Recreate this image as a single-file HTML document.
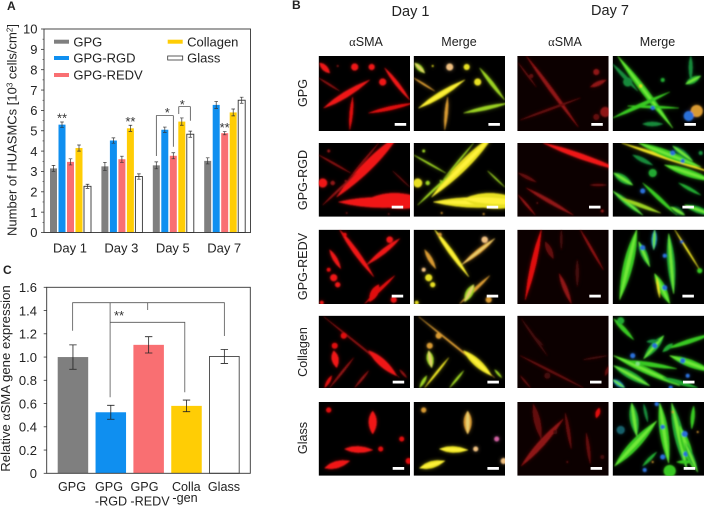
<!DOCTYPE html>
<html lang="en">
<head>
<meta charset="utf-8">
<title>HUASMC figure</title>
<style>
html,body{margin:0;padding:0;background:#fff}
#fig{display:block;width:704px;height:506px;font-family:"Liberation Sans",sans-serif;fill:#222}
text{font-size:13px}
.a{font-family:"Liberation Serif",serif}
.h{font-size:12.5px}
.r{font-size:12.6px}
</style>
</head>
<body>
<svg id="fig" xmlns="http://www.w3.org/2000/svg" width="704" height="506" viewBox="0 0 704 506">
<defs>
<filter id="soft" x="-5%" y="-5%" width="110%" height="110%"><feGaussianBlur stdDeviation="0.75"/></filter>
<filter id="softer" x="-5%" y="-5%" width="110%" height="110%"><feGaussianBlur stdDeviation="2.2"/></filter>
</defs>
<g id="chartA"></g>
<g id="chartC"></g>
<g id="panelB"></g>
<text x="7" y="10" font-weight="bold" style="font-size:12px">A</text>
<text x="292" y="9" font-weight="bold" style="font-size:12px">B</text>
<text x="3" y="274" font-weight="bold" style="font-size:12px">C</text>
<text x="410.5" y="16" text-anchor="middle" style="font-size:14.5px">Day 1</text>
<text x="610" y="15" text-anchor="middle" style="font-size:14.5px">Day 7</text>
<text class="h" x="366" y="46" text-anchor="middle"><tspan class="a">α</tspan>SMA</text>
<text class="h" x="459" y="46" text-anchor="middle">Merge</text>
<text class="h" x="565" y="46" text-anchor="middle"><tspan class="a">α</tspan>SMA</text>
<text class="h" x="657.5" y="46" text-anchor="middle">Merge</text>
<text class="r" transform="translate(307,93) rotate(-90)" text-anchor="middle">GPG</text>
<text class="r" transform="translate(307,180) rotate(-90)" text-anchor="middle">GPG-RGD</text>
<text class="r" transform="translate(307,266.5) rotate(-90)" text-anchor="middle">GPG-REDV</text>
<text class="r" transform="translate(307,352) rotate(-90)" text-anchor="middle">Collagen</text>
<text class="r" transform="translate(307,438) rotate(-90)" text-anchor="middle">Glass</text>
</svg>
<script>
/* ---------- chart data ---------- */
const daysA = ['Day 1','Day 3','Day 5','Day 7'];
const seriesNames = ['GPG','GPG-RGD','GPG-REDV','Collagen','Glass'];
const gpgValues = [3.15,3.25,3.3,3.52];
const rgdValues = [5.3,4.52,5.05,6.27];
const redvValues = [3.47,3.6,3.77,4.88];
const collagenValues = [4.15,5.12,5.45,5.9];
const glassValues = [2.27,2.75,4.83,6.5];
const gpgErrors = [0.15,0.2,0.17,0.15];
const rgdErrors = [0.13,0.13,0.13,0.17];
const redvErrors = [0.15,0.15,0.15,0.08];
const collagenErrors = [0.15,0.15,0.18,0.17];
const glassErrors = [0.1,0.13,0.15,0.15];
const ticksA = [0,1,2,3,4,5,6,7,8,9,10];
const categoriesC = ['GPG','GPG-RGD','GPG-REDV','Collagen','Glass'];
const valuesC = [1.0,0.525,1.105,0.58,1.005];
const errorsC = [0.105,0.06,0.07,0.05,0.06];
const ticksC = [0,0.2,0.4,0.6,0.8,1.0,1.2,1.4,1.6];
const tickLabelsC = ['0','0.2','0.4','0.6','0.8','1.0','1.2','1.4','1.6'];

const NS = 'http://www.w3.org/2000/svg';
const colors = ['#7f7f7f','#0f8ff0','#f96f72','#ffcd05','#ffffff'];
function mk(parent, tag, attrs, txt){
  const e = document.createElementNS(NS, tag);
  for (const k in attrs) e.setAttribute(k, attrs[k]);
  if (txt !== undefined) e.textContent = txt;
  parent.appendChild(e);
  return e;
}
function seg(parent, x1, y1, x2, y2, stroke, w){
  return mk(parent,'line',{x1:x1,y1:y1,x2:x2,y2:y2,stroke:stroke,'stroke-width':w});
}

/* ---------- chart A ---------- */
(function(){
  const g = document.getElementById('chartA');
  const L = 44, R = 250.5, T = 29, B = 232.5;
  const y = v => B - (v / 10) * (B - T);
  const gx = i => 50 + i * 51.4;
  const bx = j => j * 8.5;
  const BW = 7;
  const allV = [gpgValues,rgdValues,redvValues,collagenValues,glassValues];
  const allE = [gpgErrors,rgdErrors,redvErrors,collagenErrors,glassErrors];
  daysA.forEach((d,i)=>{
    allV.forEach((vals,j)=>{
      const v = vals[i], x = gx(i)+bx(j);
      const bar = mk(g,'rect',{x:x,y:y(v),width:BW,height:B-y(v),fill:colors[j],stroke:j===4?'#333':'none','stroke-width':j===4?0.9:0});
      
      
      const e = allE[j][i], cx = x+BW/2;
      const eb = mk(g,'path',{d:`M${cx-1.8} ${y(v+e)}H${cx+1.8}M${cx} ${y(v+e)}V${y(v-e)}M${cx-1.8} ${y(v-e)}H${cx+1.8}`,stroke:'#333','stroke-width':0.7,fill:'none'});
      
      
    });
    const lbl = mk(g,'text',{x:gx(i)+20,y:252.5,'text-anchor':'middle'},d);
    
    
  });
  const frame = mk(g,'rect',{x:L,y:T,width:R-L,height:B-T,fill:'none',stroke:'#333','stroke-width':0.9});
  
  
  ticksA.forEach(t=>{
    const tk = seg(g,L-3,y(t),L,y(t),'#333',0.8);
    
    
    if(t<10){ const mn = seg(g,L-1.5,y(t+0.5),L,y(t+0.5),'#333',0.6);
      
       }
    const tl = mk(g,'text',{x:37.5,y:y(t)+4.7,'text-anchor':'end'},String(t));
    
    
  });
  const title = mk(g,'text',{transform:'translate(16.5,130) rotate(-90)','text-anchor':'middle',style:'font-size:13px'});
  
  
  title.innerHTML = 'Number of HUASMCs [10<tspan dy="-4" style="font-size:8px">3</tspan><tspan dy="4"> cells/cm</tspan><tspan dy="-4" style="font-size:8px">2</tspan><tspan dy="4">]</tspan>';
  /* legend */
  const lx = [54,54,54,167.7,167.7], ly = [41.7,58,75,41.7,58];
  seriesNames.forEach((n,j)=>{
    const s = mk(g,'rect',{x:lx[j],y:ly[j]-2,width:15,height:4,fill:colors[j],stroke:j===4?'#333':'none','stroke-width':j===4?0.8:0});
    
    
    const t = mk(g,'text',{x:lx[j]+19.4,y:ly[j]+4.7},n);
    
    
  });
  /* significance */
  const star = (x,yy,t)=>{
    const s = mk(g,'text',{x:x,y:yy,'text-anchor':'middle',fill:'#333',style:'font-size:13px'},t);
    
    
  };
  const cxA = (i,j)=>gx(i)+bx(j)+BW/2;
  star(cxA(0,1),122.5,'**'); star(cxA(1,3),126,'**'); star(cxA(3,2),132,'**');
  star(cxA(2,0)+11,117,'*'); star(cxA(2,3)+0.5,109,'*');
  const br1 = mk(g,'path',{d:`M${cxA(2,0)} 156V115.7H${cxA(2,2)}V146.7`,fill:'none',stroke:'#333','stroke-width':0.7});
  
  
  const br2 = mk(g,'path',{d:`M${cxA(2,3)-3} 114V106.7H${cxA(2,4)}V120.7`,fill:'none',stroke:'#333','stroke-width':0.7});
  
  
})();

/* ---------- chart C ---------- */
(function(){
  const g = document.getElementById('chartC');
  const L = 46.7, R = 250.3, T = 287.3, B = 473.3;
  const y = v => B - (v / 1.6) * (B - T);
  const x = i => 57.7 + i * 37.85;
  const BW = 30.5;
  categoriesC.forEach((c,i)=>{
    const v = valuesC[i], e = errorsC[i];
    const bar = mk(g,'rect',{x:x(i)+(i===4?0.4:0),y:y(v),width:BW-(i===4?0.8:0),height:B-y(v),fill:colors[i],stroke:i===4?'#444':'none','stroke-width':i===4?0.9:0});
    
    
    const cx = x(i)+BW/2;
    const eb = mk(g,'path',{d:`M${cx-3.7} ${y(v+e)}H${cx+3.7}M${cx} ${y(v+e)}V${y(v-e)}M${cx-3.7} ${y(v-e)}H${cx+3.7}`,stroke:'#222','stroke-width':0.8,fill:'none'});
    
    
  });
  const frame = mk(g,'rect',{x:L,y:T,width:R-L,height:B-T,fill:'none',stroke:'#333','stroke-width':0.9});
  
  
  ticksC.forEach((t,i)=>{
    const tk = seg(g,L-3,y(t),L,y(t),'#333',0.8);
    
    
    const tl = mk(g,'text',{x:37,y:y(t)+4.7,'text-anchor':'end'},tickLabelsC[i]);
    
    
  });
  const labs = [['GPG',72,491],['GPG',109,491],['GPG',144.5,491],['Colla',186.3,491],['Glass',224,491],['-RGD',111,505.5],['-REDV',150,505.5],['-gen',185,502]];
  labs.forEach(l=>{
    const t = mk(g,'text',{x:l[1],y:l[2],'text-anchor':'middle',style:'font-size:12.6px'},l[0]);
    
    
  });
  const title = mk(g,'text',{transform:'translate(10,378.5) rotate(-90)','text-anchor':'middle',style:'font-size:13.2px'});
  
  
  title.innerHTML = 'Relative <tspan class="a">α</tspan>SMA gene expression';
  const c0 = x(0)+BW/2-0.3, c1 = x(1)+BW/2-0.7, c3 = x(3)+BW/2-1.7, c4=x(4)+BW/2+0;
  const br = mk(g,'path',{d:`M${c0} 330.7V302.7H${c4}V336M147.7 302.7V310M${c1} 302.7V397.3M${c1} 322.3H${c3}V392.3`,fill:'none',stroke:'#555','stroke-width':0.8});
  
  
  const st = mk(g,'text',{x:119,y:320,'text-anchor':'middle',fill:'#333',style:'font-size:13px'},'**');
  
  
})();

/* ---------- micrographs (illustrative artwork, coords local to 91x74 field) ---------- */
(function(){
  const root = document.getElementById('panelB');
  const colX = [318.7,413.7,517.3,612.7];
  const rowY = [56,143,229.7,315.7,402];
  const rowH = [75,73.7,74.3,72.3,73.7];
  const R='#e01010', r2='#8f1212', r3='#640f0f', r4='#440c0c', B='#f01515';
  const Y='#e8e020', O='#d89a30', G='#9ad020', g1='#38c820', g2='#20a830', g3='#178a3a', C='#1c8fa8', N='#2a70d8', W='#f0c080';
  /* each cell: [x1,y1,x2,y2,width,redColour,mergeColour] or blob [x,y,r,redColour,mergeColour] */
  const day1 = [
   [[5,52,51,24,5.5,B,Y],[66,12,91,44,3.5,B,G],[34,41,31,74,3,R,O],[50,57,95,47,3.5,R,G],[1,7,11,17,5,B,G],[0,22,21,35,1.5,r2,O],[36,11,3.5,B,W],[53,11,3,B,Y],[64,26,3.5,B,Y],[19,10,1,r2,Y]],
   [[80,-8,18,54,9,B,Y],[20,59,112,60,10,B,Y],[50,56,112,60,15,B,Y],[0,12,32,30,1.5,r2,G],[60,0,30,36,1.5,r2,G],[4,62,38,30,2,r2,G],[4,40,4.5,B,Y],[14,40,2.2,r2,G],[27,38,1,r2,G],[10,8,1.5,r2,G],[74,28,91,44,1.2,r3,G],[28,70,1,r3,O],[70,71,1,r3,O]],
   [[21,0,55,47,4.5,B,Y],[81,9,48,35,4.5,B,O],[11,20,22,39,4,B,O],[76,46,46,74,3,R,O],[60,55,51,72,7,R,G],[71,10,3.2,B,W],[15,48,3.5,B,Y],[19,55,2.6,B,Y],[10,40,2,R,W],[26,5,2,R,O],[75,70,3,B,O],[3,73,2,B,Y]],
   [[5,1,81,62,1.5,r2,O],[50,35,78,60,7,B,Y],[15,35,18,52,6.5,B,G],[35,42,11,72,2,r2,Y],[50,55,36,72,2,r2,G],[81,54,88,62,2,r2,G],[16,30,3,R,O],[25,20,3,R,O],[13,60,6,72,3,R,G]],
   [[54,9,54,32,7.5,B,O],[26,47,54,48,6,B,Y],[6,66,31,59,6.5,B,Y],[10,8,2.6,R,O],[62,47,2.5,R,W],[83,37,2.5,R,'#d060a0'],[90,59,3,R,W]]
  ];
  const day7Red = [
   [[9,0,61,71,3.5,r2],[3,64,63,42,2,r3],[1,7,19,31,1.2,r3],[79,16,3,r2],[73,31,89,24,4,r2],[88,56,5,r2],[79,61,3,r3],[14,20,2,r3]],
   [[26,0,105,28,5,B],[9,45,56,72,3.5,r2],[1,52,18,72,2,r2],[1,30,19,39,3,r3],[73,42,89,42,2,r3],[20,60,1,r3],[85,68,1.5,r2]],
   [[24,0,8,70,5,R],[63,0,86,40,2,r2],[42,44,54,74,4,r2],[28,12,36,29,5,r3],[60,30,60,57,3,r4],[44,0,44,20,2,r4]],
   [[16,20,26,30,1.5,r4],[3,40,66,72,2,r3],[66,44,90,40,1.5,r4],[3,60,13,72,1.5,r3],[4,3,30,40,2,r4],[30,60,3,r4],[88,60,92,50,3,r3]],
   [[4,64,46,17,6,r2],[16,2,24,37,6,r3],[48,11,54,47,3,r3],[69,31,73,62,3,r3],[82,6,79,16,4,R],[38,30,2,r4],[85,55,2,r4],[50,60,1,r3]]
  ];
  const day7Merge = [
   [[5,0,60,72,6,g1],[0,8,25,35,3.5,g3],[15,26,4.5,g3],[28,30,1.5,Y],[73,28,88,20,6,g2],[78,0,78,24,3.5,g3],[0,62,57,36,3.5,g1],[15,50,66,52,2.5,g1],[84,55,6,O],[76,60,5,N],[30,68,50,68,4,g3],[40,52,2,N],[50,24,2,g2]],
   [[9,0,100,30,3,Y],[26,0,88,24,7,g1],[1,30,20,42,7,g2],[52,22,100,38,7,g1],[30,40,64,72,3.5,g1],[0,48,30,72,5,g2],[8,55,48,70,3.5,G],[60,3,80,18,6,g3],[72,62,100,72,6,g2],[30,48,2.5,N],[70,18,2,N],[60,10,2.5,N],[40,30,4,g2],[88,10,2,g3],[58,64,72,72,7,'#0d5a20'],[20,12,40,22,4,g3],[66,40,88,52,3,g2]],
   [[24,0,7,70,9,g1],[26,12,37,37,6,g2],[42,0,41,20,5,C],[56,4,61,64,7,g2],[42,44,57,74,7,g1],[62,0,87,40,1.5,Y],[30,18,2.5,N],[52,26,2,N],[52,58,2.5,N],[69,12,1.5,N],[87,41,2.5,g1],[44,48,47,68,2,Y]],
   [[1,40,67,70,6,g1],[1,50,37,70,7,g2],[51,20,31,43,7,g2],[54,33,100,18,4,g1],[57,40,100,56,7,g1],[14,45,64,53,4,g1],[1,3,21,24,4,g1],[8,5,3.5,g2],[60,28,50,36,4,g2],[34,26,46,25,3,g3],[0,64,12,72,5,C],[20,40,2.5,N],[42,30,2.5,N],[75,60,2,N],[58,72,2,N],[70,45,2.5,N],[25,48,2,'#80e080'],[50,62,85,72,4,g2]],
   [[2,64,44,19,9,g1],[19,1,24,34,8,g2],[47,1,56,61,8,g1],[59,1,74,67,9,g2],[67,24,81,67,8,g1],[81,4,79,27,3.5,g1],[57,69,6,g1],[30,64,44,50,3,g2],[8,28,4,'#14606a'],[64,60,80,60,3,g1],[31,2,35,20,2.5,g3],[44,2,2,N],[50,25,2.2,N],[72,32,3,N],[73,52,2.5,N],[50,55,2.5,N],[32,68,2,N],[40,60,1,O],[60,10,1,O],[85,30,1,O],[72,40,85,70,5,g2]]
  ];
  function spindle(p, c, col){
    const [x1,y1,x2,y2,w] = c;
    const dx=x2-x1, dy=y2-y1, l=Math.hypot(dx,dy)||1;
    const nx=-dy/l*w, ny=dx/l*w;
    const ax=(x1*.55+x2*.45), ay=(y1*.55+y2*.45);
    mk(p,'path',{d:`M${x1} ${y1}Q${ax+nx} ${ay+ny} ${x2} ${y2}Q${ax-nx} ${ay-ny} ${x1} ${y1}Z`,fill:col,stroke:col,'stroke-width':0.5});
  }
  function paint(art, ri, ci, core){
    if (ci < 2) {
      day1[ri].forEach(c=>{
        const blob = c.length===5;
        const col = blob ? c[3+ci] : c[5+ci];
        if (blob) mk(art,'circle',{cx:c[0],cy:c[1],r:c[2],fill:col});
        else {
          spindle(art,c.slice(0,5),col);
          if (core && ci===1 && c[4]>4) spindle(art,[c[0],c[1],c[2],c[3],c[4]*0.4],c[6]===Y?'#fff23a':'#e8d070');
        }
      });
    } else {
      const list = ci===2 ? day7Red[ri] : day7Merge[ri];
      list.forEach(c=>{
        const blob = c.length===4;
        if (blob) mk(art,'circle',{cx:c[0],cy:c[1],r:c[2],fill:c[3]});
        else {
          spindle(art,c.slice(0,5),c[5]);
          if (core && ci===3 && c[4]>=5) spindle(art,[c[0],c[1],c[2],c[3],c[4]*0.35],'#70e838');
        }
      });
    }
  }
  const barX = [[76,73,73,74,74],[74.7,73,73,73.7,73.7],[74,71.7,72,72.7,73.3],[71.7,69.7,69.7,70.3,71]];
  const barY = [67,62.7,65,65,65];
  const rowNames = ['gpg','gpg-rgd','gpg-redv','collagen','glass'];
  const colNames = ['day-1-asma','day-1-merge','day-7-asma','day-7-merge'];
  rowNames.forEach((rn,ri)=>{
    colNames.forEach((cn,ci)=>{
      const cp = 'clip'+ri+ci;
      const cl = mk(root,'clipPath',{id:cp});
      mk(cl,'rect',{x:0,y:0,width:91.3,height:rowH[ri]});
      const p = mk(root,'g',{transform:`translate(${colX[ci]},${rowY[ri]})`,'clip-path':`url(#${cp})`});
      
      
      mk(p,'rect',{x:0,y:0,width:91.3,height:rowH[ri],fill:ci===2?'#0c0000':'#000'});
      const halo = mk(p,'g',{filter:'url(#softer)',opacity:0.5});
      paint(halo,ri,ci,false);
      const art = mk(p,'g',{filter:'url(#soft)'});
      paint(art,ri,ci,true);
      const sb = mk(p,'rect',{x:barX[ci][ri],y:barY[ri],width:11.5,height:2.8,fill:'#fff'});
      
      
    });
  });
})();
</script>
</body>
</html>
